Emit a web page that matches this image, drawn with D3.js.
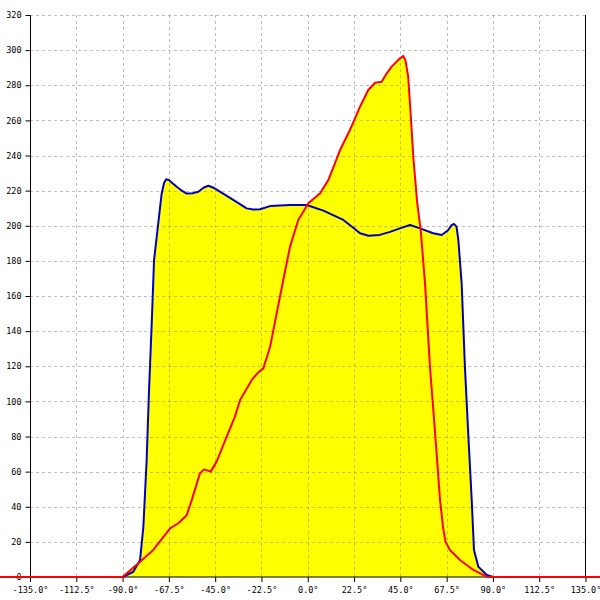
<!DOCTYPE html>
<html>
<head>
<meta charset="utf-8">
<script src="https://cdn.jsdelivr.net/npm/d3@7"></script>
<style>
  html, body { margin: 0; padding: 0; background: #fff; }
  svg { display: block; }
  text { font-family: "DejaVu Sans Mono", monospace; font-size: 8.3px; fill: #000; }
</style>
</head>
<body>
<svg id="chart" width="600" height="600"></svg>
<script>
// ---- data (angle in degrees, value) ----
const blueAngles = [-90, -84.8, -81.5, -79.9, -78.3, -77.2, -75.9, -74.7, -71.0, -69.8, -68.8, -67.5, -66.0, -63.7, -61.0, -58.8, -56.0, -53.2, -50.5, -48.3, -45.5, -42.7, -36.2, -29.7, -26.5, -23.2, -18.3, -8.6, -0.5, 7.6, 17.3, 22.0, 25.4, 29.5, 35, 40, 44.8, 49.7, 54.6, 61.0, 65.1, 68.3, 70.0, 71.1, 72.3, 73.2, 74.8, 76.4, 78.0, 79.7, 80.8, 82.9, 87.0, 90.2];
const blueValues = [0, 3, 9.7, 28.6, 66.6, 104.6, 142.5, 180.5, 218.4, 224.5, 226.5, 226.0, 224.5, 222.2, 219.8, 218.3, 218.5, 219.4, 221.8, 222.8, 221.5, 219.4, 214.7, 209.9, 209.2, 209.4, 211.2, 211.8, 211.8, 208.6, 203.3, 199.0, 195.7, 194.3, 194.8, 196.5, 198.5, 200.4, 198.5, 195.7, 194.7, 197.6, 200.5, 201.0, 199.5, 191.9, 167.2, 119.7, 81.8, 43.8, 15.4, 5.9, 1.1, 0];

const redAngles = [-150, -90, -81.5, -75.1, -66.9, -62.9, -58.8, -56.4, -52.4, -50.4, -47.2, -44.3, -39.4, -35.4, -32.9, -27.2, -24.5, -21.6, -18.3, -15.1, -11.9, -8.6, -4.6, 0.3, 6.0, 10.0, 15.7, 20.5, 25.4, 29.4, 32.7, 35.9, 38.4, 40.8, 44.5, 46.4, 47.5, 48.8, 50.0, 51.3, 53.2, 54.9, 57.0, 59.4, 61.9, 64.3, 65.8, 67.0, 69.1, 74.0, 80.5, 87.0, 90.0, 145];
const redValues = [0, 0, 8.7, 15.4, 27.7, 30.6, 35.3, 43.8, 59.0, 61.3, 60.0, 65.7, 79.9, 91.3, 100.8, 112.2, 116.0, 118.8, 131.1, 150.1, 169.1, 188.1, 203.3, 212.8, 218.5, 226.0, 243.1, 254.5, 267.8, 277.3, 281.4, 282.0, 286.8, 290.6, 295.0, 296.7, 294.0, 285.0, 264.0, 239.3, 213.0, 197.6, 167.2, 119.7, 81.8, 43.8, 28.0, 20.0, 15.4, 9.7, 4.0, 0.2, 0, 0];

const xTicks = [-135, -112.5, -90, -67.5, -45, -22.5, 0, 22.5, 45, 67.5, 90, 112.5, 135];
const yTicks = [0, 20, 40, 60, 80, 100, 120, 140, 160, 180, 200, 220, 240, 260, 280, 300, 320];

// ---- layout ----
const padL = 30, padR = 585.5, padT = 15, padB = 577;
const svg = d3.select("#chart");
const x = d3.scaleLinear().domain([-135, 135]).range([padL, padR]);
const y = d3.scaleLinear().domain([0, 320]).range([padB, padT]);

const blue = blueAngles.map((a, i) => [a, blueValues[i]]);
const red = redAngles.map((a, i) => [a, redValues[i]]);

const curve = d3.curveLinear;
const area = d3.area().x(d => x(d[0])).y0(y(0)).y1(d => y(d[1])).curve(curve);
const line = d3.line().x(d => x(d[0])).y(d => y(d[1])).curve(curve);

// fills
svg.append("path").attr("d", area(blue)).attr("fill", "#ffff00");
svg.append("path").attr("d", area(red.filter(d => d[0] >= -90 && d[0] <= 90))).attr("fill", "#ffff00");

// grid
const grid = svg.append("g").attr("stroke", "rgba(130,130,130,0.5)").attr("stroke-dasharray", "3,3").attr("stroke-width", 1);
yTicks.filter(v => v > 0).forEach(v => {
  grid.append("line").attr("x1", padL).attr("x2", padR).attr("y1", Math.round(y(v)) + 0.5).attr("y2", Math.round(y(v)) + 0.5);
});
xTicks.filter(v => v > -135 && v < 135).forEach(v => {
  grid.append("line").attr("x1", Math.round(x(v)) + 0.5).attr("x2", Math.round(x(v)) + 0.5).attr("y1", padT).attr("y2", padB);
});

// axes
const yAxis = d3.axisLeft(y).tickValues(yTicks).tickSize(5).tickPadding(4).tickFormat(d3.format("d"));
const gy = svg.append("g").attr("transform", `translate(${padL + 0.5},0)`).call(yAxis);
gy.select(".domain").attr("d", `M0,${padT}V${padB}`);
gy.selectAll("text").style("font-family", '"DejaVu Sans Mono", monospace').style("font-size", "8.5px");

const xAxis = d3.axisBottom(x).tickValues(xTicks).tickSize(5).tickPadding(5).tickFormat(d => d3.format(".1f")(d).replace("−", "-") + "°");
const gx = svg.append("g").attr("transform", `translate(0,${padB})`).call(xAxis);
gx.select(".domain").attr("d", `M${padL},0H${padR}`);
gx.selectAll("text").style("font-family", '"DejaVu Sans Mono", monospace').style("font-size", "8.5px");

svg.append("line").attr("x1", padR).attr("x2", padR).attr("y1", padT).attr("y2", padB).attr("stroke", "#000");

// lines
svg.append("path").attr("d", line(blue)).attr("fill", "none").attr("stroke", "#0000c0").attr("stroke-width", 2).attr("stroke-linejoin", "round");
svg.append("path").attr("d", line(red)).attr("fill", "none").attr("stroke", "#ff0000").attr("stroke-width", 2).attr("stroke-linejoin", "round");
</script>
</body>
</html>
